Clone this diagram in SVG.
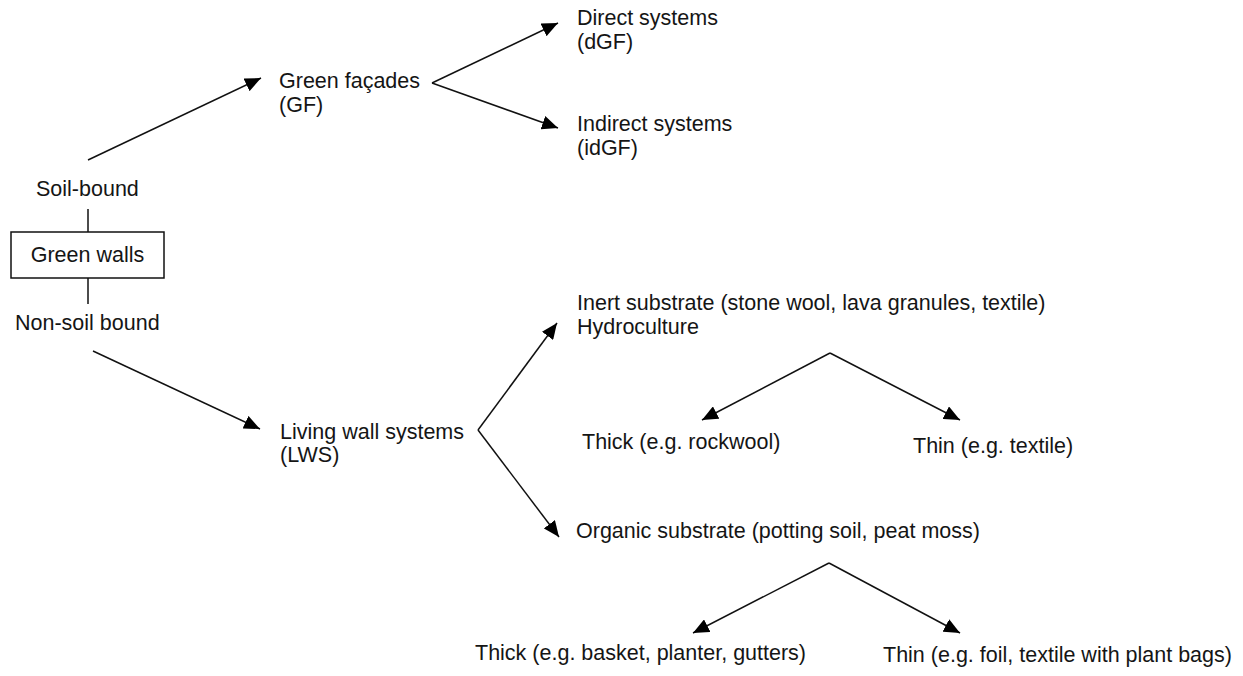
<svg xmlns="http://www.w3.org/2000/svg" width="1243" height="676" viewBox="0 0 1243 676">
  <style>
    text { font-family: "Liberation Sans", Arial, sans-serif; font-size: 21.5px; fill: #151515; }
    .conn line { stroke: #111; stroke-width: 1.5; fill: none; }
    .box { fill: #fff; stroke: #111; stroke-width: 1.5; }
  </style>
  <defs>
    <marker id="ah" viewBox="0 0 16 14" refX="16" refY="7" markerWidth="16" markerHeight="14" markerUnits="userSpaceOnUse" orient="auto">
      <path d="M0,0 L16,7 L0,14 Z" fill="#000"/>
    </marker>
  </defs>
  <rect width="1243" height="676" fill="#fff"/>

  <g class="conn" id="connectors">
    <line x1="88" y1="209" x2="88" y2="232"/>
    <line x1="88" y1="278" x2="88" y2="304"/>
    <line x1="88" y1="160" x2="261" y2="78" marker-end="url(#ah)"/>
    <line x1="432" y1="83" x2="558" y2="23" marker-end="url(#ah)"/>
    <line x1="432" y1="83" x2="558" y2="128" marker-end="url(#ah)"/>
    <line x1="93" y1="351" x2="260" y2="429" marker-end="url(#ah)"/>
    <line x1="478" y1="430" x2="557" y2="323" marker-end="url(#ah)"/>
    <line x1="478" y1="430" x2="559" y2="537" marker-end="url(#ah)"/>
    <line x1="830" y1="353" x2="702" y2="420" marker-end="url(#ah)"/>
    <line x1="830" y1="353" x2="960" y2="420" marker-end="url(#ah)"/>
    <line x1="829" y1="563" x2="693" y2="633" marker-end="url(#ah)"/>
    <line x1="829" y1="563" x2="960" y2="633" marker-end="url(#ah)"/>
  </g>

  <g id="green-walls">
    <rect class="box" x="11" y="232" width="153" height="46"/>
    <text x="87.5" y="262" text-anchor="middle">Green walls</text>
  </g>
  <g id="soil-bound"><text x="36" y="196">Soil-bound</text></g>
  <g id="non-soil-bound"><text x="15" y="330">Non-soil bound</text></g>
  <g id="green-facades">
    <text x="279" y="88">Green façades</text>
    <text x="279" y="112">(GF)</text>
  </g>
  <g id="direct-systems">
    <text x="577" y="25">Direct systems</text>
    <text x="577" y="49">(dGF)</text>
  </g>
  <g id="indirect-systems">
    <text x="577" y="131">Indirect systems</text>
    <text x="577" y="155">(idGF)</text>
  </g>
  <g id="living-wall-systems">
    <text x="280" y="439">Living wall systems</text>
    <text x="280" y="462">(LWS)</text>
  </g>
  <g id="inert-substrate">
    <text x="577" y="310">Inert substrate (stone wool, lava granules, textile)</text>
    <text x="577" y="334">Hydroculture</text>
  </g>
  <g id="inert-thick"><text x="582" y="449">Thick (e.g. rockwool)</text></g>
  <g id="inert-thin"><text x="913" y="453">Thin (e.g. textile)</text></g>
  <g id="organic-substrate">
    <text x="576" y="538">Organic substrate (potting soil, peat moss)</text>
  </g>
  <g id="organic-thick"><text x="475" y="660">Thick (e.g. basket, planter, gutters)</text></g>
  <g id="organic-thin"><text x="883" y="662">Thin (e.g. foil, textile with plant bags)</text></g>
</svg>
